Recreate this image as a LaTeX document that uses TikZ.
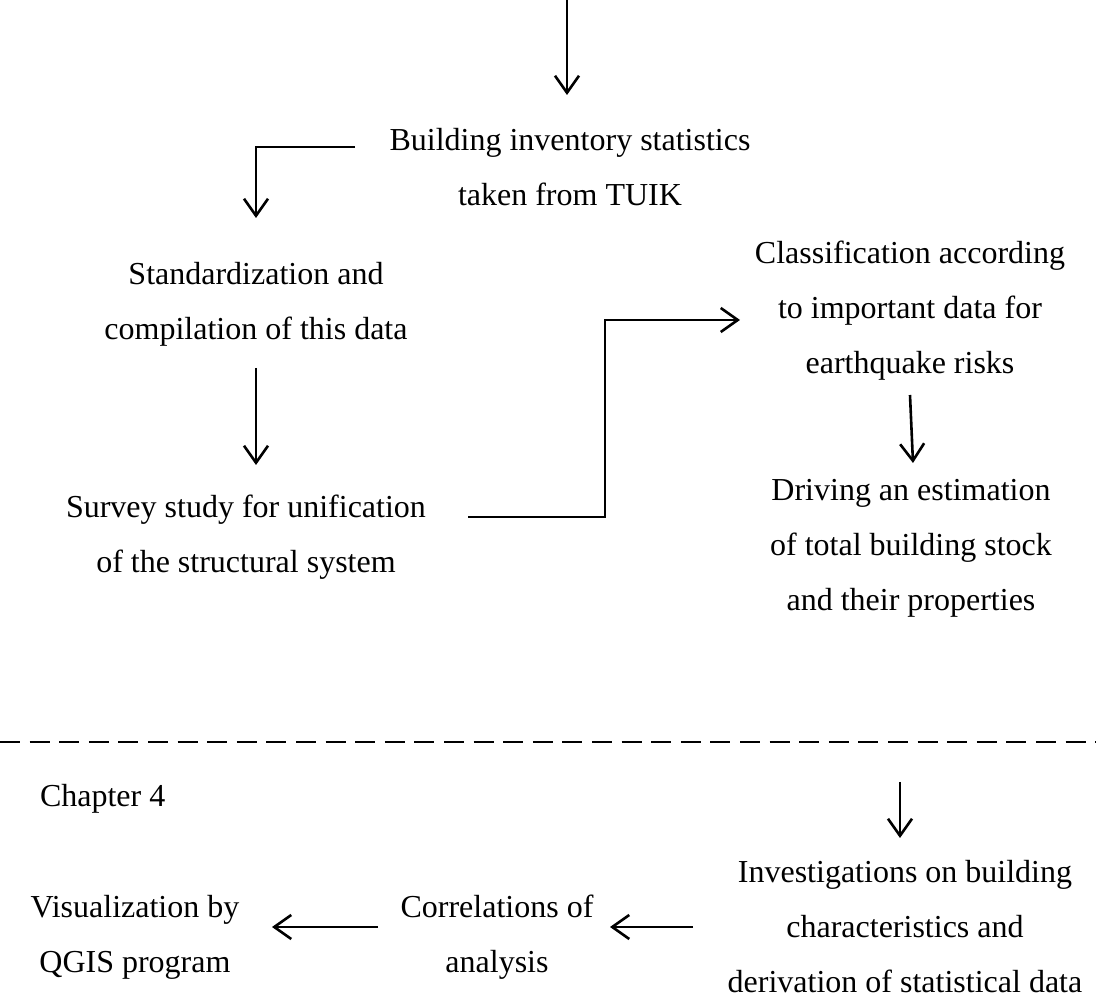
\documentclass[tikz,border=0pt]{standalone}
\usepackage{fontspec}
\setmainfont{Liberation Serif}
\usetikzlibrary{arrows.meta}

\tikzset{
  stage/.style={align=center,inner sep=0pt,outer sep=0pt,font=\fontsize{32}{55}\selectfont},
  flow/.style={draw=drawColor,line width=2.6pt,line join=miter,-{Straight Barb[length=17pt,width=24pt,line width=2.6pt]}},
  divider/.style={draw=drawColor,line width=2.2pt,dash pattern=on 20pt off 9.6pt}
}

\begin{document}
\begin{tikzpicture}[x=1pt,y=1pt]
\definecolor{fillColor}{RGB}{255,255,255}
\definecolor{drawColor}{RGB}{0,0,0}
\path[use as bounding box,fill=fillColor] (0,0) rectangle (1096,998);

% upper part
\node[stage] (bldg) at (570,831) {Building inventory statistics\\taken from TUIK};
\node[stage] (stdz) at (256,693.5) {Standardization and\\compilation of this data};
\node[stage] (surv) at (246,460.5) {Survey study for unification\\of the structural system};
\node[stage] (clsf) at (910,687) {Classification according\\to important data for\\earthquake risks};
\node[stage] (estm) at (911,450) {Driving an estimation\\of total building stock\\and their properties};

\coordinate (inTop) at (567,998);
\coordinate (inEnd) at (567,903);
\coordinate (bldgOut) at (355,851);
\coordinate (stdzIn) at (256,780);
\coordinate (stdzOut) at (256,630);
\coordinate (survIn) at (256,533);
\coordinate (survOut) at (468,481);
\coordinate (riser) at (605,481);
\coordinate (clsfIn) at (740,678);
\coordinate (clsfOut) at (910,603);
\coordinate (estmIn) at (913,535);

\draw[flow] (inTop) -- (inEnd);
\draw[flow] (bldgOut) -| (stdzIn);
\draw[flow] (stdzOut) -- (survIn);
\draw[flow] (survOut) -- (riser) |- (clsfIn);
\draw[flow] (clsfOut) -- (estmIn);

% chapter boundary
\coordinate (cutL) at (0,256);
\coordinate (cutR) at (1096,256);
\draw[divider] (cutL) -- (cutR);

% lower part
\node[stage,anchor=west] (chap) at (40,199) {Chapter 4};
\node[stage] (invs) at (905,71) {Investigations on building\\characteristics and\\derivation of statistical data};
\node[stage] (corr) at (497,60.5) {Correlations of\\analysis};
\node[stage] (visu) at (135,60.5) {Visualization by\\QGIS program};

\coordinate (invsTop) at (900,216);
\coordinate (invsIn) at (900,160);
\coordinate (invsOut) at (693,71);
\coordinate (corrIn) at (610,71);
\coordinate (corrOut) at (378,71);
\coordinate (visuIn) at (272,71);

\draw[flow] (invsTop) -- (invsIn);
\draw[flow] (invsOut) -- (corrIn);
\draw[flow] (corrOut) -- (visuIn);
\end{tikzpicture}
\end{document}
